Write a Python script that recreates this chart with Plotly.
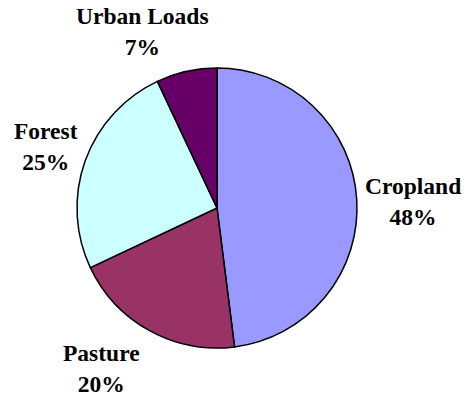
import plotly.graph_objects as go

# Land-use shares of the load
categories = ["Cropland", "Pasture", "Forest", "Urban Loads"]
shares = [48, 20, 25, 7]
colors = ["#9999FF", "#993366", "#CCFFFF", "#660066"]

# Where each category's label sits on the page (paper coordinates)
label_x = [0.8873, 0.2178, 0.0987, 0.3058]
label_y = [0.4962, 0.0752, 0.6328, 0.9198]

W, H = 466, 399

fig = go.Figure(
    go.Pie(
        labels=categories,
        values=shares,
        sort=False,
        direction="clockwise",
        rotation=0,
        marker=dict(colors=colors, line=dict(color="black", width=1.5)),
        textinfo="none",
        hoverinfo="label+percent",
        showlegend=False,
        domain=dict(x=[77 / W, 357 / W], y=[(H - 348) / H, (H - 68) / H]),
    )
)

for name, val, x, y in zip(categories, shares, label_x, label_y):
    fig.add_annotation(
        x=x, y=y, xref="paper", yref="paper",
        text=f"<b>{name}<br>{val}%</b>",
        showarrow=False, xanchor="center", yanchor="middle",
        align="center",
        font=dict(family="Liberation Serif", size=23.5, color="black"),
    )

fig.update_layout(
    width=W, height=H,
    margin=dict(l=0, r=0, t=0, b=0),
    paper_bgcolor="white",
    plot_bgcolor="white",
)

fig.write_html("out.html")
